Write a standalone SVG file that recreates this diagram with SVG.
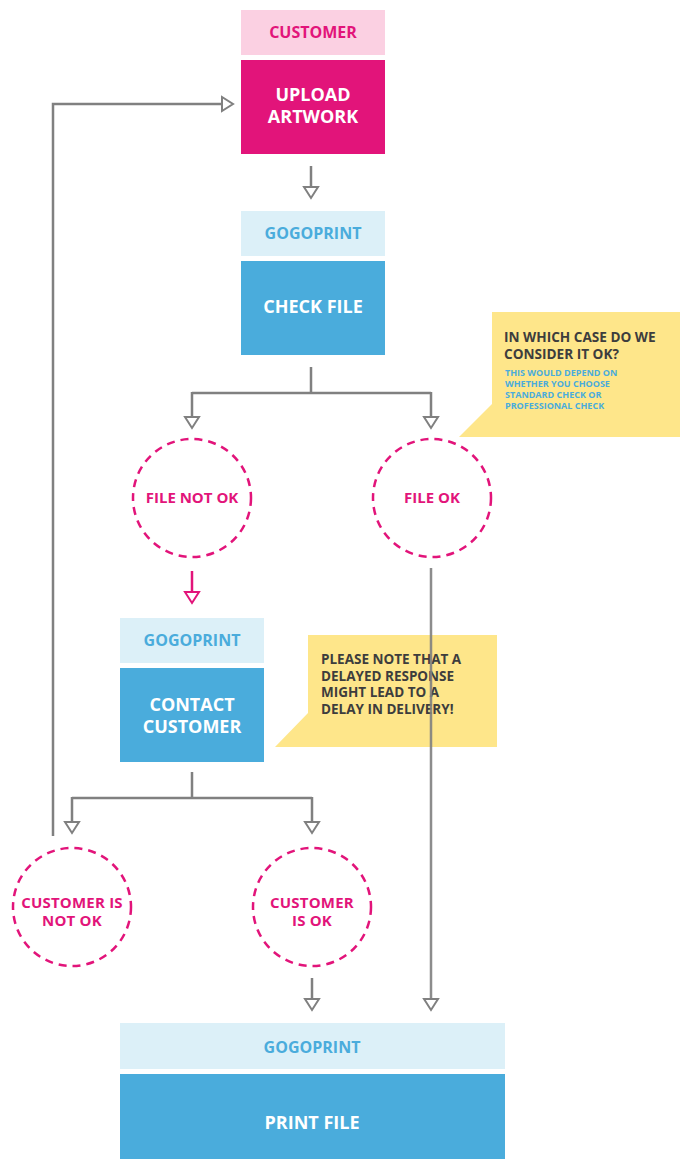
<svg xmlns="http://www.w3.org/2000/svg" width="686" height="1159" viewBox="0 0 686 1159">
<style>
.hdrP{fill:#fbd0e2}
.boxP{fill:#e2147a}
.hdrB{fill:#dcf0f8}
.boxB{fill:#4aacdc}
.note{fill:#fee68a}
text{font-family:"Open Sans","Liberation Sans",sans-serif;font-weight:bold;text-anchor:middle}
.hp{fill:#e2147a;font-size:16px}
.hb{fill:#4aacdc;font-size:16px}
.bt{fill:#ffffff;font-size:18px}
.ct{fill:#e2147a;font-size:15px}
.ct2{fill:#e2147a;font-size:15px;letter-spacing:0.2px}
.circ{fill:none;stroke:#e2147a;stroke-width:2.5;stroke-dasharray:8 6}
.ln{fill:none;stroke:#808080;stroke-width:2.5}
.lnp{fill:none;stroke:#e2147a;stroke-width:2.5}
.ah{fill:#ffffff;stroke:#808080;stroke-width:2}
.ahp{fill:#ffffff;stroke:#e2147a;stroke-width:2}
.nt{fill:#3d3d3d;font-size:13.6px;text-anchor:start}
.nt2{fill:#3d3d3d;font-size:13.5px;text-anchor:start}
.ns{fill:#4aacdc;font-size:9px;text-anchor:start}
</style>
<defs>
<path id="down" d="M-7,0 L7,0 L0,11 Z"/>
<path id="right" d="M0,-7 L0,7 L11,0 Z"/>
</defs>
<rect width="686" height="1159" fill="#ffffff"/>

<g id="upload">
<rect class="hdrP" x="241" y="10" width="144" height="45"/>
<text class="hp" x="313" y="38">CUSTOMER</text>
<rect class="boxP" x="241" y="60" width="144" height="94"/>
<text class="bt" x="313" y="101">UPLOAD</text>
<text class="bt" x="313" y="123">ARTWORK</text>
</g>

<g id="check">
<rect class="hdrB" x="241" y="211" width="144" height="45"/>
<text class="hb" x="313" y="239">GOGOPRINT</text>
<rect class="boxB" x="241" y="261" width="144" height="94"/>
<text class="bt" x="313" y="313">CHECK FILE</text>
</g>

<g id="note1">
<path class="note" d="M492,312 H680 V437 H459 L492,404 Z"/>
<text class="nt" x="504" y="342">IN WHICH CASE DO WE</text>
<text class="nt" x="504" y="359">CONSIDER IT OK?</text>
<text class="ns" x="505" y="376">THIS WOULD DEPEND ON</text>
<text class="ns" x="505" y="387">WHETHER YOU CHOOSE</text>
<text class="ns" x="505" y="398">STANDARD CHECK OR</text>
<text class="ns" x="505" y="409">PROFESSIONAL CHECK</text>
</g>

<g id="filenotok">
<circle class="circ" cx="192" cy="498" r="59"/>
<text class="ct" x="192" y="503">FILE NOT OK</text>
</g>

<g id="fileok">
<circle class="circ" cx="432" cy="498" r="59"/>
<text class="ct" x="432" y="503">FILE OK</text>
</g>

<g id="contact">
<rect class="hdrB" x="120" y="618" width="144" height="45"/>
<text class="hb" x="192" y="646">GOGOPRINT</text>
<rect class="boxB" x="120" y="668" width="144" height="94"/>
<text class="bt" x="192" y="711">CONTACT</text>
<text class="bt" x="192" y="733">CUSTOMER</text>
</g>

<g id="note2">
<path class="note" d="M308,635 H497 V747 H275 L308,713 Z"/>
<text class="nt2" x="321" y="664">PLEASE NOTE THAT A</text>
<text class="nt2" x="321" y="681">DELAYED RESPONSE</text>
<text class="nt2" x="321" y="697">MIGHT LEAD TO A</text>
<text class="nt2" x="321" y="714">DELAY IN DELIVERY!</text>
</g>

<g id="custnotok">
<circle class="circ" cx="72" cy="907" r="59"/>
<text class="ct2" x="72" y="908">CUSTOMER IS</text>
<text class="ct2" x="72" y="926">NOT OK</text>
</g>

<g id="custok">
<circle class="circ" cx="312" cy="907" r="59"/>
<text class="ct2" x="312" y="908">CUSTOMER</text>
<text class="ct2" x="312" y="926">IS OK</text>
</g>

<g id="print">
<rect class="hdrB" x="120" y="1023" width="385" height="46"/>
<text class="hb" x="312" y="1053">GOGOPRINT</text>
<rect class="boxB" x="120" y="1074" width="385" height="85"/>
<text class="bt" x="312" y="1129">PRINT FILE</text>
</g>

<g id="connectors">
<path class="ln" d="M311,166 V187"/>
<use href="#down" class="ah" x="311" y="187"/>
<path class="ln" d="M311,367 V393 M192,393 H431 M192,392 V417 M431,392 V417"/>
<use href="#down" class="ah" x="192" y="417"/>
<use href="#down" class="ah" x="431" y="417"/>
<path class="lnp" d="M192,571 V592"/>
<use href="#down" class="ahp" x="192" y="592"/>
<path class="ln" d="M431,568 V999" stroke-opacity="0.9"/>
<use href="#down" class="ah" x="431" y="999"/>
<path class="ln" d="M192,772 V798 M72,798 H312 M72,797 V822 M312,797 V822"/>
<use href="#down" class="ah" x="72" y="822"/>
<use href="#down" class="ah" x="312" y="822"/>
<path class="ln" d="M312,978 V999"/>
<use href="#down" class="ah" x="312" y="999"/>
<path class="ln" d="M53,836 V104 H222"/>
<use href="#right" class="ah" x="222" y="104"/>
</g>
</svg>
